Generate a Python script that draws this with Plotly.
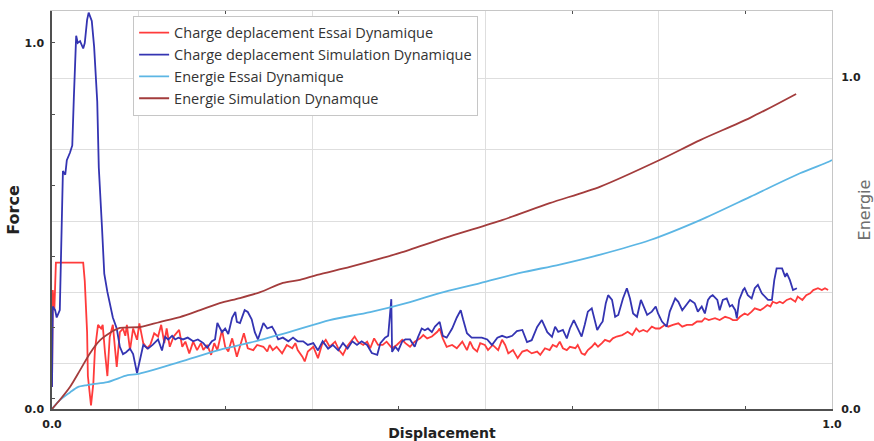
import plotly.graph_objects as go

# ---- Force / displacement, test (Essai) ----
test_force_x = [
    0.000, 0.001, 0.003, 0.005, 0.040, 0.042, 0.045, 0.046, 0.050, 0.053,
    0.055, 0.059, 0.063, 0.065, 0.068, 0.071, 0.074, 0.078, 0.081, 0.083,
    0.087, 0.091, 0.094, 0.096, 0.100, 0.104, 0.109, 0.112, 0.117, 0.122,
    0.126, 0.131, 0.136, 0.140, 0.144, 0.147, 0.151, 0.156, 0.163, 0.167,
    0.171, 0.176, 0.181, 0.186, 0.191, 0.194, 0.199, 0.204, 0.208, 0.212,
    0.218, 0.222, 0.226, 0.231, 0.237, 0.241, 0.246, 0.251, 0.258, 0.263,
    0.271, 0.276, 0.279, 0.283, 0.288, 0.295, 0.301, 0.308, 0.312, 0.315,
    0.321, 0.324, 0.328, 0.335, 0.341, 0.346, 0.351, 0.356, 0.363, 0.368,
    0.373, 0.378, 0.385, 0.388, 0.392, 0.399, 0.404, 0.408, 0.413, 0.418,
    0.424, 0.429, 0.436, 0.442, 0.449, 0.453, 0.459, 0.465, 0.472, 0.476,
    0.481, 0.487, 0.494, 0.497, 0.501, 0.506, 0.513, 0.519, 0.526, 0.532,
    0.536, 0.540, 0.545, 0.549, 0.555, 0.559, 0.565, 0.572, 0.577, 0.581,
    0.585, 0.591, 0.597, 0.603, 0.609, 0.615, 0.622, 0.626, 0.632, 0.638,
    0.642, 0.647, 0.651, 0.655, 0.660, 0.664, 0.671, 0.674, 0.679, 0.683,
    0.687, 0.692, 0.696, 0.700, 0.705, 0.709, 0.715, 0.719, 0.724, 0.731,
    0.735, 0.738, 0.744, 0.749, 0.753, 0.758, 0.763, 0.769, 0.774, 0.779,
    0.786, 0.790, 0.796, 0.803, 0.808, 0.814, 0.821, 0.827, 0.833, 0.837,
    0.842, 0.850, 0.856, 0.863, 0.869, 0.873, 0.878, 0.882, 0.888, 0.892,
    0.897, 0.901, 0.908, 0.912, 0.917, 0.921, 0.924, 0.929, 0.933, 0.937,
    0.942, 0.947, 0.953, 0.956, 0.962, 0.967, 0.972, 0.976, 0.982, 0.987,
    0.991, 0.995,
]
test_force_y = [
    0.06, 0.325, 0.27, 0.40, 0.40, 0.35, 0.21, 0.09, 0.01, 0.07,
    0.16, 0.23, 0.22, 0.23, 0.153, 0.09, 0.197, 0.23, 0.16, 0.115,
    0.21, 0.22, 0.20, 0.23, 0.161, 0.22, 0.189, 0.234, 0.18, 0.166,
    0.175, 0.207, 0.198, 0.23, 0.18, 0.22, 0.17, 0.198, 0.216, 0.17,
    0.184, 0.152, 0.184, 0.161, 0.18, 0.161, 0.175, 0.148, 0.18, 0.161,
    0.216, 0.17, 0.157, 0.193, 0.143, 0.17, 0.207, 0.166, 0.161, 0.175,
    0.17, 0.157, 0.175, 0.161, 0.17, 0.152, 0.175, 0.166, 0.18, 0.161,
    0.143, 0.13, 0.157, 0.17, 0.139, 0.175, 0.189, 0.17, 0.184, 0.161,
    0.148, 0.17, 0.189, 0.198, 0.184, 0.175, 0.184, 0.166, 0.193, 0.175,
    0.175, 0.184, 0.166, 0.175, 0.189, 0.18, 0.17, 0.184, 0.193, 0.202,
    0.193, 0.198, 0.211, 0.22, 0.193, 0.17, 0.175, 0.166, 0.184, 0.161,
    0.184, 0.166, 0.157, 0.18, 0.175, 0.161, 0.175, 0.161, 0.189, 0.175,
    0.152, 0.161, 0.139, 0.157, 0.161, 0.152, 0.157, 0.148, 0.166, 0.161,
    0.175, 0.17, 0.184, 0.166, 0.161, 0.17, 0.166, 0.175, 0.152, 0.148,
    0.161, 0.17, 0.18, 0.17, 0.18, 0.189, 0.184, 0.193, 0.198, 0.202,
    0.207, 0.211, 0.202, 0.22, 0.211, 0.216, 0.211, 0.225, 0.22, 0.22,
    0.23, 0.225, 0.23, 0.234, 0.225, 0.23, 0.23, 0.239, 0.239, 0.248,
    0.243, 0.248, 0.243, 0.252, 0.248, 0.243, 0.243, 0.252, 0.261, 0.257,
    0.266, 0.275, 0.27, 0.275, 0.284, 0.28, 0.293, 0.289, 0.293, 0.289,
    0.298, 0.302, 0.293, 0.307, 0.298, 0.311, 0.316, 0.325, 0.33, 0.325,
    0.33, 0.325,
]

# ---- Force / displacement, simulation ----
sim_force_x = [
    0.000, 0.001, 0.004, 0.006, 0.010, 0.014, 0.017, 0.019, 0.023, 0.026,
    0.028, 0.031, 0.033, 0.036, 0.040, 0.042, 0.045, 0.047, 0.051, 0.054,
    0.058, 0.060, 0.064, 0.067, 0.071, 0.074, 0.078, 0.083, 0.087, 0.091,
    0.095, 0.100, 0.104, 0.109, 0.113, 0.117, 0.123, 0.129, 0.136, 0.141,
    0.145, 0.149, 0.154, 0.158, 0.162, 0.168, 0.174, 0.181, 0.187, 0.194,
    0.199, 0.205, 0.209, 0.212, 0.218, 0.222, 0.226, 0.231, 0.235, 0.237,
    0.241, 0.247, 0.251, 0.256, 0.260, 0.264, 0.271, 0.276, 0.282, 0.286,
    0.290, 0.296, 0.303, 0.309, 0.315, 0.322, 0.328, 0.335, 0.341, 0.347,
    0.354, 0.360, 0.367, 0.373, 0.379, 0.385, 0.391, 0.397, 0.404, 0.410,
    0.417, 0.421, 0.427, 0.431, 0.435, 0.436, 0.440, 0.444, 0.449, 0.453,
    0.459, 0.465, 0.469, 0.474, 0.478, 0.482, 0.487, 0.491, 0.497, 0.501,
    0.506, 0.513, 0.519, 0.524, 0.527, 0.532, 0.538, 0.545, 0.551, 0.558,
    0.564, 0.571, 0.577, 0.583, 0.590, 0.596, 0.603, 0.609, 0.615, 0.622,
    0.628, 0.635, 0.641, 0.645, 0.649, 0.655, 0.660, 0.664, 0.669, 0.674,
    0.679, 0.683, 0.687, 0.692, 0.696, 0.699, 0.703, 0.706, 0.710, 0.713,
    0.718, 0.722, 0.726, 0.732, 0.737, 0.741, 0.745, 0.750, 0.755, 0.759,
    0.763, 0.769, 0.774, 0.777, 0.782, 0.788, 0.792, 0.799, 0.803, 0.808,
    0.812, 0.818, 0.824, 0.828, 0.833, 0.837, 0.841, 0.844, 0.847, 0.853,
    0.856, 0.860, 0.865, 0.869, 0.872, 0.876, 0.878, 0.881, 0.886, 0.888,
    0.892, 0.897, 0.901, 0.905, 0.910, 0.914, 0.918, 0.923, 0.926, 0.929,
    0.936, 0.940, 0.942, 0.946, 0.950, 0.955,
]
sim_force_y = [
    0.06, 0.28, 0.27, 0.25, 0.27, 0.65, 0.64, 0.68, 0.70, 0.72,
    0.85, 1.02, 1.00, 1.005, 0.985, 1.00, 1.063, 1.083, 1.06, 0.99,
    0.84, 0.66, 0.50, 0.37, 0.32, 0.29, 0.25, 0.22, 0.17, 0.15,
    0.155, 0.165, 0.15, 0.098, 0.134, 0.175, 0.165, 0.175, 0.19, 0.16,
    0.197, 0.19, 0.20, 0.19, 0.195, 0.19, 0.195, 0.185, 0.19, 0.18,
    0.167, 0.185, 0.19, 0.235, 0.21, 0.22, 0.205, 0.25, 0.265, 0.238,
    0.235, 0.27, 0.265, 0.245, 0.21, 0.19, 0.235, 0.22, 0.225, 0.21,
    0.19, 0.195, 0.185, 0.195, 0.185, 0.185, 0.175, 0.18, 0.16, 0.185,
    0.165, 0.175, 0.16, 0.18, 0.165, 0.185, 0.175, 0.185, 0.175, 0.153,
    0.148, 0.18, 0.195, 0.20, 0.30, 0.156, 0.17, 0.16, 0.185, 0.19,
    0.19, 0.17, 0.195, 0.22, 0.215, 0.22, 0.21, 0.225, 0.238, 0.20,
    0.195, 0.22, 0.25, 0.27, 0.245, 0.207, 0.195, 0.195, 0.195, 0.19,
    0.175, 0.195, 0.20, 0.195, 0.20, 0.213, 0.216, 0.183, 0.188, 0.224,
    0.243, 0.21, 0.197, 0.225, 0.211, 0.216, 0.193, 0.22, 0.243, 0.22,
    0.198, 0.23, 0.266, 0.275, 0.243, 0.216, 0.23, 0.239, 0.289, 0.311,
    0.298, 0.252, 0.257, 0.302, 0.33, 0.302, 0.261, 0.252, 0.298, 0.275,
    0.257, 0.266, 0.28, 0.261, 0.239, 0.225, 0.266, 0.302, 0.293, 0.27,
    0.28, 0.298, 0.289, 0.266, 0.28, 0.261, 0.298, 0.307, 0.311, 0.298,
    0.27, 0.298, 0.302, 0.28, 0.284, 0.27, 0.248, 0.298, 0.325, 0.33,
    0.311, 0.302, 0.33, 0.339, 0.316, 0.307, 0.298, 0.298, 0.352, 0.384,
    0.384, 0.361, 0.371, 0.352, 0.325, 0.33,
]

# ---- Energy, test ----
test_energy_x = [0.0, 0.010, 0.023, 0.033, 0.045, 0.053, 0.071, 0.097, 0.109,
                 0.164, 0.215, 0.254, 0.267, 0.305, 0.356, 0.408, 0.459, 0.497,
                 0.549, 0.600, 0.651, 0.703, 0.767, 0.831, 0.895, 0.959, 0.995, 1.0]
test_energy_y = [0.0, 0.027, 0.05, 0.066, 0.072, 0.075, 0.081, 0.102, 0.105,
                 0.142, 0.178, 0.2, 0.208, 0.232, 0.268, 0.292, 0.322, 0.349,
                 0.379, 0.41, 0.435, 0.465, 0.509, 0.569, 0.639, 0.71, 0.744, 0.75]

# ---- Energy, simulation ----
sim_energy_x = [0.0, 0.010, 0.023, 0.036, 0.049, 0.062, 0.074, 0.087, 0.113, 0.138,
                0.164, 0.190, 0.215, 0.241, 0.267, 0.296, 0.318, 0.340, 0.382, 0.424,
                0.446, 0.510, 0.577, 0.638, 0.703, 0.779, 0.831, 0.895, 0.954]
sim_energy_y = [0.0, 0.027, 0.066, 0.117, 0.169, 0.208, 0.229, 0.244, 0.247, 0.262,
                0.277, 0.298, 0.319, 0.334, 0.352, 0.38, 0.389, 0.404, 0.428, 0.455,
                0.47, 0.52, 0.569, 0.62, 0.67, 0.75, 0.81, 0.877, 0.949]

series_names = [
    "Charge deplacement Essai Dynamique",
    "Charge deplacement Simulation Dynamique",
    "Energie Essai Dynamique",
    "Energie Simulation Dynamque",
]
series_colors = ["#ff3b3b", "#3434b2", "#5cb6e4", "#a33c3c"]

end_ticks = [0.0, 1.0]
end_labels = ["0.0", "1.0"]

force_range = [0, 1.0874]
energy_range = [0, 1.1988]

ninth = 1 / 9
x_tick_marks = [0, 2 * ninth, 4 * ninth, 6 * ninth, 8 * ninth, 1]
x_grid = [ninth, 3 * ninth, 5 * ninth, 7 * ninth]
y_tick_marks = [0, 0.03, 0.224, 0.418, 0.612, 0.806, 1.0]
y_grid = [0.123, 0.318, 0.513, 0.708, 0.902]

tick_font = dict(family="DejaVu Sans", size=11, color="#222222", weight="bold")
axis_dark = "#505050"
frame_light = "#c6c6c6"
grid_col = "#dedede"

fig = go.Figure()
fig.add_trace(go.Scatter(x=test_force_x, y=test_force_y, mode="lines",
                         name=series_names[0], line=dict(color=series_colors[0], width=1.8),
                         xaxis="x", yaxis="y"))
fig.add_trace(go.Scatter(x=sim_force_x, y=sim_force_y, mode="lines",
                         name=series_names[1], line=dict(color=series_colors[1], width=1.8),
                         xaxis="x", yaxis="y"))
fig.add_trace(go.Scatter(x=test_energy_x, y=test_energy_y, mode="lines",
                         name=series_names[2],
                         line=dict(color=series_colors[2], width=1.8, shape="spline",
                                   smoothing=0.8),
                         xaxis="x2", yaxis="y2"))
fig.add_trace(go.Scatter(x=sim_energy_x, y=sim_energy_y, mode="lines",
                         name=series_names[3],
                         line=dict(color=series_colors[3], width=1.8, shape="spline",
                                   smoothing=0.8),
                         xaxis="x2", yaxis="y2"))


def labels_at(vals):
    return [end_labels[end_ticks.index(v)] if v in end_ticks else "" for v in vals]


fig.update_layout(
    width=874, height=441,
    margin=dict(l=52, r=42, t=11, b=32),
    paper_bgcolor="white", plot_bgcolor="white",
    legend=dict(x=0.104, y=0.988, xanchor="left", yanchor="top",
                bgcolor="white", bordercolor=frame_light, borderwidth=1,
                font=dict(family="Open Sans", size=14.5, color="#333333"),
                tracegroupgap=0),
    xaxis=dict(range=[0, 1], tickmode="array", tickvals=x_tick_marks,
               ticktext=labels_at(x_tick_marks), ticks="inside", ticklen=3,
               tickcolor=axis_dark, showline=True, linecolor=axis_dark, linewidth=1.5,
               showgrid=False, zeroline=False, tickfont=tick_font, ticklabelstandoff=4,
               automargin=False,
               minor=dict(tickmode="array", tickvals=x_grid, showgrid=True,
                          gridcolor=grid_col, gridwidth=1, ticks=""),
               title=dict(text="Displacement", standoff=1,
                          font=dict(family="DejaVu Sans", size=14, color="#222222",
                                    weight="bold"))),
    yaxis=dict(range=force_range, tickmode="array", tickvals=y_tick_marks,
               ticktext=labels_at(y_tick_marks), ticks="inside", ticklen=3,
               tickcolor=axis_dark, showline=True, linecolor=axis_dark, linewidth=1.5,
               showgrid=False, zeroline=False, tickfont=tick_font, ticklabelstandoff=4,
               automargin=False,
               minor=dict(tickmode="array", tickvals=y_grid, showgrid=True,
                          gridcolor=grid_col, gridwidth=1, ticks=""),
               title=dict(text="Force", standoff=1,
                          font=dict(family="DejaVu Sans", size=16, color="#222222",
                                    weight="bold"))),
    xaxis2=dict(range=[0, 1], overlaying="x", side="top", anchor="y2",
                tickmode="array", tickvals=x_tick_marks[1:-1], ticks="inside", ticklen=3,
                tickcolor=axis_dark, showticklabels=False, showline=True,
                linecolor=frame_light, linewidth=1, showgrid=False, zeroline=False,
                automargin=False),
    yaxis2=dict(range=energy_range, overlaying="y", side="right", anchor="x2",
                tickmode="array", tickvals=end_ticks, ticktext=end_labels, ticks="",
                showline=True, linecolor=frame_light, linewidth=1, showgrid=False,
                zeroline=False, tickfont=tick_font, ticklabelstandoff=6,
                automargin=False,
                title=dict(text="Energie", standoff=0,
                           font=dict(family="DejaVu Sans", size=16, color="#6e6e6e"))),
)

fig.write_html("out.html")
